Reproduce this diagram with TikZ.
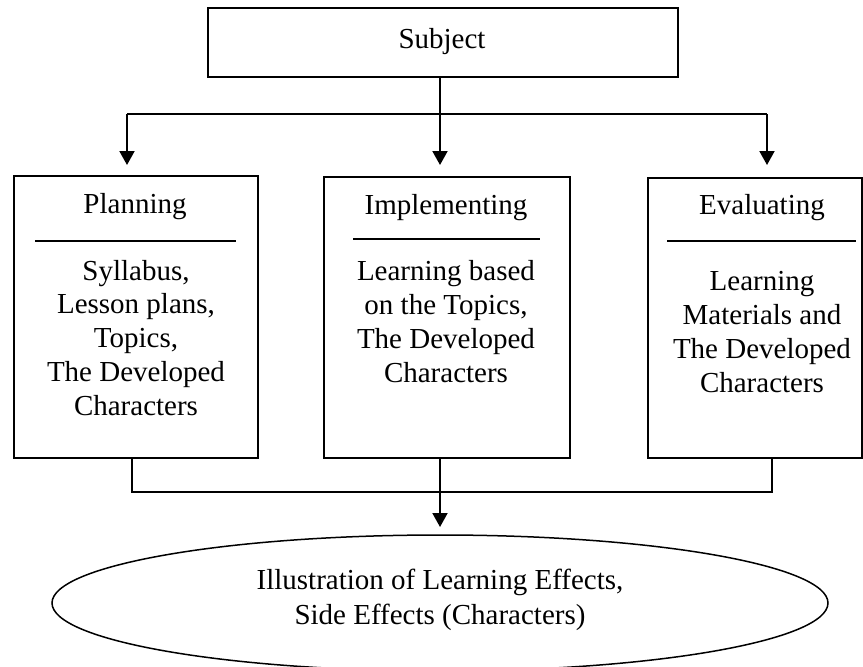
\documentclass[tikz,border=0pt]{standalone}
\usepackage{fontspec}
\setmainfont{Liberation Serif}
\usetikzlibrary{arrows.meta,shapes.geometric}
\begin{document}
\begin{tikzpicture}[x=1pt,y=-1pt,
  box/.style={draw, line width=1.5pt, inner sep=0pt, anchor=north west},
  txt/.style={font=\fontsize{29}{33.75}\selectfont, align=center, anchor=base, inner sep=0pt},
  sepline/.style={line width=1.6pt},
  conn/.style={line width=1.7pt},
  arr/.style={line width=2pt, -{Triangle[width=15pt,length=14pt]}}]
\useasboundingbox (0,0) rectangle (863,667);
\fill[white] (0,0) rectangle (863,667);
% boxes
\node[box, minimum width=470, minimum height=69] (subj) at (207,7) {};
\node[box, minimum width=244, minimum height=282] (plan) at (13,175) {};
\node[box, minimum width=246, minimum height=281] (impl) at (323,176) {};
\node[box, minimum width=214, minimum height=280] (eval) at (647,177) {};
\node[draw, ellipse, line width=1.5pt, minimum width=776, minimum height=136, inner sep=0pt] (ell) at (440,603) {};
% texts (base anchor = baseline of the last line)
\node[txt] (subjt) at (442,48) {Subject};
\node[txt] (plant) at (135,213) {Planning};
\node[txt] (planb) at (136,415) {Syllabus,\\Lesson plans,\\Topics,\\The Developed\\Characters};
\node[txt] (implt) at (446,214) {Implementing};
\node[txt] (implb) at (446,382) {Learning based\\on the Topics,\\The Developed\\Characters};
\node[txt] (evalt) at (762,214) {Evaluating};
\node[txt] (evalb) at (762,392) {Learning\\Materials and\\The Developed\\Characters};
\node[txt, font=\fontsize{29}{35}\selectfont] (ellt) at (440,624) {Illustration of Learning Effects,\\Side Effects (Characters)};
% separators
\draw[sepline] (35,241) -- (236,241);
\draw[sepline] (353,239) -- (540,239);
\draw[sepline] (667,241) -- (856,241);
% top connectors
\coordinate (tl) at (127,114);
\coordinate (tm) at (440,114);
\coordinate (tr) at (767,114);
\coordinate (al) at (127,165);
\coordinate (am) at (440,165);
\coordinate (ar) at (767,165);
\draw[conn] (tl) -- (tr);
\draw[arr] (subj.south -| tm) -- (am);
\draw[arr] (tl) -- (al);
\draw[arr] (tr) -- (ar);
% bottom connectors
\coordinate (bl) at (132,492);
\coordinate (bm) at (440,492);
\coordinate (br) at (772,492);
\coordinate (ab) at (440,527);
\draw[conn] (plan.south -| bl) -- (bl) -- (br) -- (eval.south -| br);
\draw[arr] (impl.south -| bm) -- (ab);
\end{tikzpicture}
\end{document}
